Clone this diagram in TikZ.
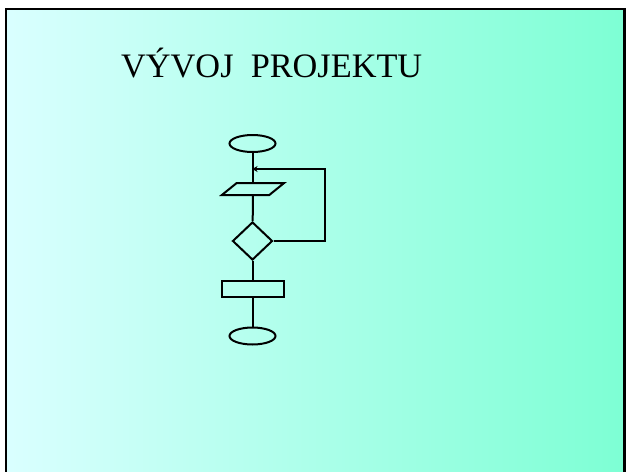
\documentclass[tikz,border=0pt]{standalone}
\usepackage{fontspec}
\setmainfont{Liberation Serif}
\usetikzlibrary{shapes.geometric,arrows.meta}
\definecolor{bgleft}{RGB}{218,255,255}
\definecolor{bgright}{RGB}{125,255,212}
\tikzset{
  flow/.style={draw=black, line width=2pt, inner sep=0pt},
  term/.style={flow, ellipse, minimum width=46pt, minimum height=17pt},
  io/.style={flow, trapezium, trapezium left angle=39, trapezium right angle=141,
     inner xsep=16.3pt, inner ysep=6pt},
  dec/.style={flow, diamond, minimum width=40pt, minimum height=38pt},
  proc/.style={flow, rectangle, minimum width=62pt, minimum height=16pt},
  conn/.style={line width=2pt, draw=black},
}
\begin{document}
\begin{tikzpicture}[x=1pt,y=-1pt]
\useasboundingbox (0,0) rectangle (626,471);
\fill[white] (0,0) rectangle (626,471);
\begin{scope}
\clip (0,0) rectangle (626,471);
\shade[left color=bgleft, right color=bgright] (6,9) rectangle (624.5,485);
\draw[line width=2.5pt, black] (6,9) rectangle (624.5,485);
\end{scope}
\node[anchor=base west, inner sep=0pt, font=\fontsize{34.3}{38}\selectfont] (title) at (121,77.3) {VÝVOJ\ \ PROJEKTU};
\node[term] (start) at (252.5,143.5) {};
\node[io] (inp) at (253,189) {};
\node[dec] (cond) at (252.5,241) {};
\node[proc] (act) at (252.5,288.7) {};
\node[term] (stop) at (252.5,336) {};
\coordinate (j) at (252.5,169);
\coordinate (c1) at (325,169);
\draw[conn] (start) -- (start |- inp.north);
\draw[conn] (inp) -- (cond);
\draw[conn] (cond) -- (act);
\draw[conn] (act) -- (stop);
\draw[conn, -{Stealth[length=5pt,width=6pt]}] (cond.east) -| (c1) -- (j);
\end{tikzpicture}
\end{document}
